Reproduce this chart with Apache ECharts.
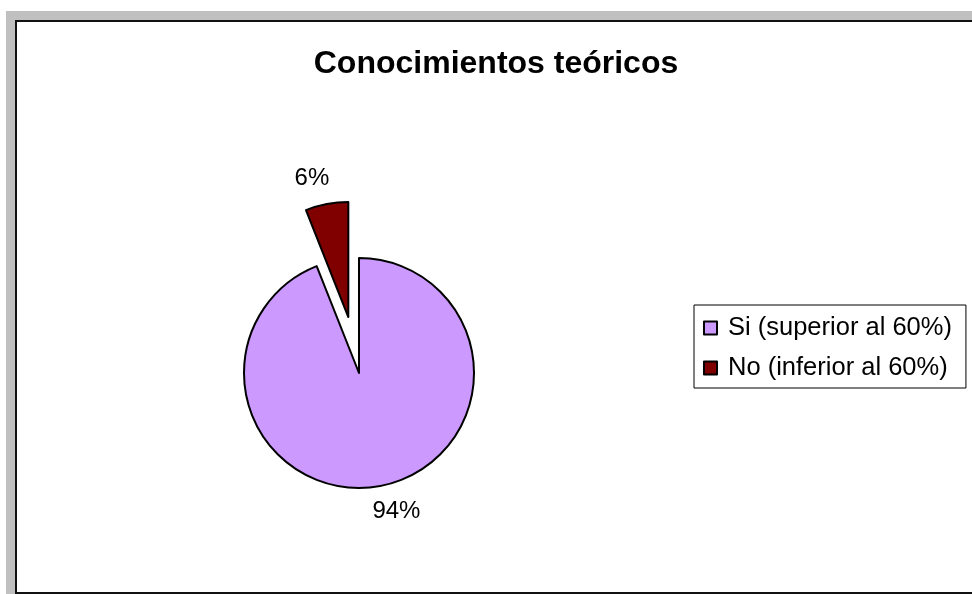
<!DOCTYPE html>
<html>
<head>
<meta charset="utf-8">
<script src="https://cdn.jsdelivr.net/npm/echarts@6/dist/echarts.min.js"></script>
<style>
    html, body { margin: 0; padding: 0; background: #fff; }
    #shadow { position: absolute; left: 6px; top: 11px; width: 980px; height: 600px; background: #c0c0c0; }
    #frame { position: absolute; left: 15px; top: 20px; width: 980px; height: 570px; background: #fff; border: 2px solid #111; }
    #chart { position: absolute; left: 0; top: 0; width: 972px; height: 594px; }
</style>
</head>
<body>
<div id="shadow"></div>
<div id="frame"></div>
<div id="chart"></div>
<script>
// 数据
const titleText = 'Conocimientos teóricos';
const categories = ['Si (superior al 60%)', 'No (inferior al 60%)'];
const values = [94, 6];
const colors = ['#cc99ff', '#800000'];

document.addEventListener('DOMContentLoaded', function() {
    initPie();
});

function initPie() {
    const chartDom = document.getElementById('chart');
    const myChart = echarts.init(chartDom);

    const option = {
        title: {
            text: titleText,
            left: 491,
            top: 43,
            textAlign: 'center',
            textStyle: {
                fontFamily: 'Liberation Sans',
                fontSize: 32,
                fontWeight: 'bold',
                color: '#000'
            }
        },
        legend: {
            orient: 'vertical',
            left: 694,
            top: 305,
            padding: [9, 14, 6, 9],
            itemGap: 12,
            itemWidth: 13,
            itemHeight: 13,
            icon: 'rect',
            borderColor: '#000',
            borderWidth: 1,
            data: categories,
            textStyle: {
                fontFamily: 'Liberation Sans',
                fontSize: 25.5,
                lineHeight: 28,
                color: '#000',
                padding: [0, 0, 0, 6]
            }
        },
        series: [
            {
                type: 'pie',
                center: [359, 373],
                radius: 115,
                startAngle: 90,
                clockwise: true,
                selectedMode: 'multiple',
                selectedOffset: 57,
                animation: false,
                itemStyle: {
                    borderColor: '#000',
                    borderWidth: 2
                },
                label: {
                    show: true,
                    position: 'outside',
                    formatter: '{d}%',
                    fontFamily: 'Liberation Sans',
                    fontSize: 24,
                    color: '#000'
                },
                labelLine: {
                    show: false,
                    length: 26,
                    length2: 0
                },
                labelLayout: function(params) {
                    // 标签居中于径向点
                    return {
                        align: 'center',
                        verticalAlign: 'middle',
                        dx: params.dataIndex === 0 ? 6 : -5
                    };
                },
                emphasis: { scale: false },
                data: categories.map(function(name, i) {
                    return {
                        name: name,
                        value: values[i],
                        selected: i === 1,
                        itemStyle: { color: colors[i] }
                    };
                })
            }
        ]
    };

    myChart.setOption(option);
}
</script>
</body>
</html>
